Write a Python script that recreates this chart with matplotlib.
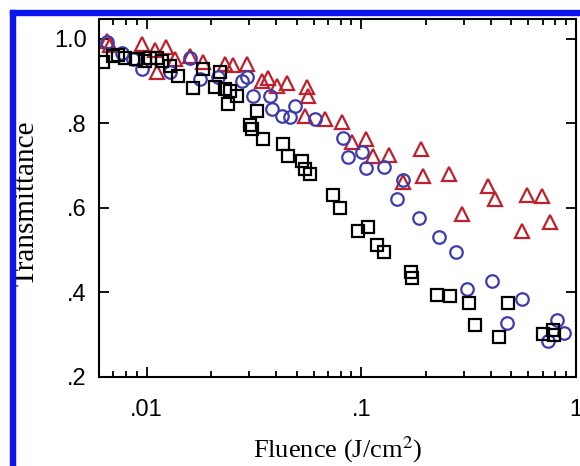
import matplotlib
matplotlib.use("Agg")
import matplotlib.pyplot as plt
from matplotlib.ticker import FixedLocator, LogLocator, NullFormatter
from matplotlib.patches import Rectangle

# fluence (J/cm2) and transmittance
sq_x = [0.00626, 0.00697, 0.00736, 0.00793, 0.00892, 0.00982, 0.0104, 0.0112, 0.0118,
        0.0128, 0.0140, 0.0164, 0.0183, 0.0208, 0.0219, 0.0231, 0.0239, 0.0244,
        0.0263, 0.0302, 0.0309, 0.0326, 0.0348, 0.0431, 0.0454, 0.0528, 0.0545,
        0.0575, 0.0735, 0.0793, 0.0961, 0.107, 0.118, 0.127, 0.171, 0.173,
        0.226, 0.260, 0.319, 0.337, 0.440, 0.484, 0.705, 0.784, 0.793]
sq_y = [0.944, 0.958, 0.960, 0.953, 0.951, 0.946, 0.955, 0.953, 0.946,
        0.934, 0.911, 0.882, 0.929, 0.885, 0.922, 0.880, 0.845, 0.875,
        0.864, 0.795, 0.786, 0.828, 0.762, 0.751, 0.722, 0.711, 0.692,
        0.680, 0.631, 0.600, 0.544, 0.555, 0.511, 0.496, 0.449, 0.433,
        0.393, 0.391, 0.376, 0.322, 0.294, 0.374, 0.301, 0.311, 0.299]

ci_x = [0.00654, 0.00768, 0.00864, 0.00951, 0.0128, 0.0159, 0.0177, 0.0215, 0.0278,
        0.0293, 0.0312, 0.0375, 0.0383, 0.0426, 0.0464, 0.0490, 0.0607, 0.0818,
        0.0864, 0.101, 0.105, 0.128, 0.146, 0.157, 0.185, 0.231, 0.275,
        0.312, 0.408, 0.479, 0.563, 0.743, 0.819, 0.882]
ci_y = [0.991, 0.967, 0.951, 0.927, 0.920, 0.955, 0.904, 0.908, 0.899,
        0.908, 0.864, 0.864, 0.833, 0.816, 0.814, 0.840, 0.809, 0.765,
        0.720, 0.732, 0.694, 0.696, 0.621, 0.666, 0.576, 0.532, 0.496,
        0.409, 0.426, 0.327, 0.384, 0.285, 0.334, 0.304]

tr_x = [0.00654, 0.00675, 0.00951, 0.0109, 0.0112, 0.0123, 0.0135, 0.0159, 0.0183,
        0.0231, 0.0252, 0.0293, 0.0344, 0.0367, 0.0404, 0.0449, 0.0557, 0.0563,
        0.0545, 0.0675, 0.0810, 0.0901, 0.105, 0.113, 0.134, 0.156, 0.189,
        0.193, 0.255, 0.296, 0.391, 0.421, 0.563, 0.594, 0.697, 0.760]
tr_y = [0.995, 0.984, 0.986, 0.972, 0.922, 0.979, 0.951, 0.958, 0.944,
        0.939, 0.937, 0.941, 0.899, 0.906, 0.887, 0.894, 0.885, 0.864,
        0.816, 0.809, 0.802, 0.755, 0.762, 0.722, 0.725, 0.661, 0.739,
        0.675, 0.680, 0.586, 0.652, 0.621, 0.544, 0.631, 0.628, 0.567]

y_ticks = [0.2, 0.4, 0.6, 0.8, 1.0]
y_labels = [".2", ".4", ".6", ".8", "1.0"]
x_ticks = [0.01, 0.1, 1]
x_labels = [".01", ".1", "1"]

plt.rcParams["mathtext.fontset"] = "stix"

fig = plt.figure(figsize=(5.8, 4.66), dpi=100)
ax = fig.add_axes([0.1707, 0.191, 0.8224, 0.768])

ms = 9
mew = 1.6
ax.plot(tr_x, tr_y, "^", ms=ms + 0.5, mfc="none", mec="#c0202c", mew=mew)
ax.plot(ci_x, ci_y, "o", ms=ms, mfc="none", mec="#3c3cae", mew=mew)
ax.plot(sq_x, sq_y, "s", ms=ms, mfc="none", mec="black", mew=mew)

ax.set_xscale("log")
ax.set_xlim(0.006, 1.0)
ax.set_ylim(0.2, 1.046)

ax.xaxis.set_major_locator(FixedLocator(x_ticks))
ax.set_xticklabels(x_labels)
ax.xaxis.set_minor_locator(LogLocator(base=10, subs=range(2, 10)))
ax.xaxis.set_minor_formatter(NullFormatter())
ax.set_yticks(y_ticks)
ax.set_yticklabels(y_labels)

ax.tick_params(which="both", direction="in", top=True, right=True, width=1.3)
ax.tick_params(which="major", length=7, labelsize=17)
ax.tick_params(axis="y", which="major", pad=9)
ax.tick_params(axis="x", which="major", pad=16)
ax.tick_params(which="minor", length=4)
for lab in ax.get_xticklabels() + ax.get_yticklabels():
    lab.set_family("Liberation Sans")
for s in ax.spines.values():
    s.set_linewidth(1.5)

ax.set_xlabel("Fluence (J/cm$^2$)", family="Liberation Serif", fontsize=19)
ax.set_ylabel("Transmittance", family="Liberation Serif", fontsize=21)
ax.xaxis.set_label_coords(0.501, -0.16)
ax.yaxis.set_label_coords(-0.124, 0.486)

# blue frame along the top and left of the image
fig.patches.append(Rectangle((10 / 580, 0), 5 / 580, 1 - 10 / 466,
                             transform=fig.transFigure, color="#0a14f0", zorder=0))
fig.patches.append(Rectangle((10 / 580, 1 - 15 / 466), 1, 5 / 466,
                             transform=fig.transFigure, color="#0a14f0", zorder=0))

fig.savefig("out.png", dpi=100)
